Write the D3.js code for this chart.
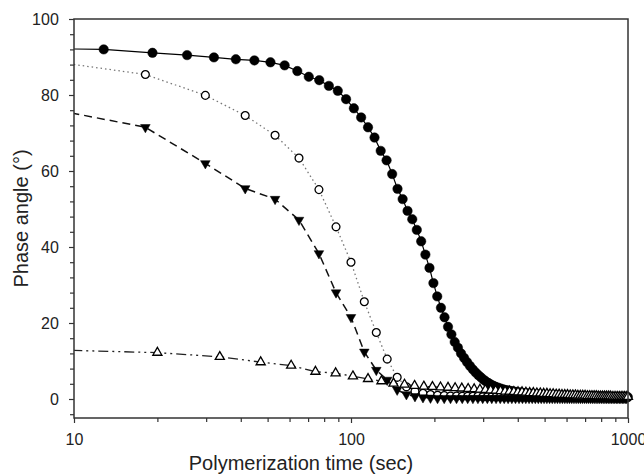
<!DOCTYPE html>
<html>
<head>
<meta charset="utf-8">
<script src="https://cdn.jsdelivr.net/npm/d3@7"></script>
<style>
  body { margin: 0; background: #fff; }
  svg { display: block; }
  text { font-family: Arial, "Liberation Sans", sans-serif; fill: #222; }
</style>
</head>
<body>
<svg id="chart" width="644" height="474"></svg>
<script>
// filled circles, solid line (sampled every 6.4 s)
var fillCircT = [6.4, 12.8, 19.2, 25.6, 32, 38.4, 44.8, 51.2, 57.6, 64,
  70.4, 76.8, 83.2, 89.6, 96, 102.4, 108.8, 115.2, 121.6, 128,
  134.4, 140.8, 147.2, 153.6, 160, 166.4, 172.8, 179.2, 185.6, 192,
  198.4, 204.8, 211.2, 217.6, 224, 230.4, 236.8, 243.2, 249.6, 256,
  262.4, 268.8, 275.2, 281.6, 288, 294.4, 300.8, 307.2, 313.6, 320,
  326.4, 332.8, 339.2, 345.6, 352, 358.4, 364.8, 371.2, 377.6, 384,
  390.4, 396.8, 403.2, 409.6, 416, 422.4, 428.8, 435.2, 441.6, 448,
  454.4, 460.8, 467.2, 473.6, 480, 486.4, 492.8, 499.2, 505.6, 512,
  518.4, 524.8, 531.2, 537.6, 544, 550.4, 556.8, 563.2, 569.6, 576,
  582.4, 588.8, 595.2, 601.6, 608, 614.4, 620.8, 627.2, 633.6, 640,
  646.4, 652.8, 659.2, 665.6, 672, 678.4, 684.8, 691.2, 697.6, 704,
  710.4, 716.8, 723.2, 729.6, 736, 742.4, 748.8, 755.2, 761.6, 768,
  774.4, 780.8, 787.2, 793.6, 800, 806.4, 812.8, 819.2, 825.6, 832,
  838.4, 844.8, 851.2, 857.6, 864, 870.4, 876.8, 883.2, 889.6, 896,
  902.4, 908.8, 915.2, 921.6, 928, 934.4, 940.8, 947.2, 953.6, 960,
  966.4, 972.8, 979.2, 985.6, 992, 998.4];
var fillCircV = [92.3, 92.0, 91.1, 90.5, 89.9, 89.4, 89.1, 88.6, 87.8, 86.3,
  84.8, 83.9, 82.4, 81.1, 78.9, 76.5, 74.1, 71.5, 68.8, 65.3,
  62.8, 59.2, 55.3, 52.6, 49.5, 47.3, 44.5, 41.5, 38.0, 34.5,
  30.5, 27.0, 24.0, 21.5, 19.0, 17.0, 15.0, 13.5, 12.0, 10.8,
  9.7, 8.7, 7.8, 7.0, 6.3, 5.7, 5.1, 4.6, 4.2, 3.8,
  3.5, 3.2, 3.0, 2.8, 2.6, 2.4, 2.3, 2.2, 2.1, 2.0,
  1.9, 1.8, 1.7, 1.7, 1.6, 1.5, 1.5, 1.4, 1.4, 1.3,
  1.3, 1.2, 1.2, 1.2, 1.1, 1.1, 1.1, 1.0, 1.0, 1.0,
  1.0, 0.9, 0.9, 0.9, 0.9, 0.9, 0.8, 0.8, 0.8, 0.8,
  0.8, 0.8, 0.7, 0.7, 0.7, 0.7, 0.7, 0.7, 0.7, 0.7,
  0.6, 0.6, 0.6, 0.6, 0.6, 0.6, 0.6, 0.6, 0.6, 0.6,
  0.6, 0.6, 0.6, 0.6, 0.6, 0.6, 0.6, 0.6, 0.6, 0.6,
  0.6, 0.6, 0.6, 0.6, 0.6, 0.6, 0.6, 0.6, 0.6, 0.6,
  0.5, 0.5, 0.5, 0.5, 0.5, 0.5, 0.5, 0.5, 0.5, 0.5,
  0.5, 0.5, 0.5, 0.5, 0.5, 0.5, 0.5, 0.5, 0.5, 0.5,
  0.5, 0.5, 0.5, 0.5, 0.5, 0.5];

// open circles (dotted) and filled triangles (dashed) share one time base
var midT = [6.4, 18.1, 29.8, 41.5, 53.2, 64.9, 76.6, 88.3, 100, 111.7,
  123.4, 135.1, 146.8, 158.5, 170.2, 181.9, 193.6, 205.3, 217, 228.7,
  240.4, 252.1, 263.8, 275.5, 287.2, 298.9, 310.6, 322.3, 334, 345.7,
  357.4, 369.1, 380.8, 392.5, 404.2, 415.9, 427.6, 439.3, 451, 462.7,
  474.4, 486.1, 497.8, 509.5, 521.2, 532.9, 544.6, 556.3, 568, 579.7,
  591.4, 603.1, 614.8, 626.5, 638.2, 649.9, 661.6, 673.3, 685, 696.7,
  708.4, 720.1, 731.8, 743.5, 755.2, 766.9, 778.6, 790.3, 802, 813.7,
  825.4, 837.1, 848.8, 860.5, 872.2, 883.9, 895.6, 907.3, 919, 930.7,
  942.4, 954.1, 965.8, 977.5, 989.2];
var openCircV = [90.0, 85.4, 79.9, 74.6, 69.4, 63.4, 55.1, 45.3, 36.0, 25.6,
  17.5, 10.5, 5.7, 3.2, 2.0, 1.5, 1.2, 1.0, 0.9, 0.8,
  0.8, 0.7, 0.7, 0.7, 0.7, 0.6, 0.6, 0.6, 0.6, 0.6,
  0.5, 0.5, 0.5, 0.5, 0.5, 0.5, 0.5, 0.5, 0.5, 0.5,
  0.5, 0.5, 0.5, 0.5, 0.5, 0.5, 0.5, 0.5, 0.5, 0.5,
  0.5, 0.5, 0.5, 0.5, 0.5, 0.4, 0.4, 0.4, 0.4, 0.4,
  0.4, 0.4, 0.4, 0.4, 0.4, 0.4, 0.4, 0.4, 0.4, 0.4,
  0.4, 0.4, 0.4, 0.4, 0.4, 0.4, 0.4, 0.4, 0.4, 0.4,
  0.4, 0.4, 0.4, 0.4, 0.4];
var fillTriV = [77.9, 71.5, 62.0, 55.4, 52.6, 47.1, 38.3, 28.0, 21.5, 12.4,
  7.6, 5.0, 2.4, 1.2, 0.7, 0.4, 0.3, 0.2, 0.2, 0.2,
  0.2, 0.2, 0.2, 0.2, 0.2, 0.2, 0.2, 0.2, 0.2, 0.2,
  0.2, 0.2, 0.2, 0.2, 0.2, 0.2, 0.2, 0.2, 0.2, 0.2,
  0.2, 0.2, 0.2, 0.2, 0.2, 0.2, 0.2, 0.2, 0.2, 0.2,
  0.2, 0.2, 0.2, 0.2, 0.2, 0.2, 0.2, 0.2, 0.2, 0.2,
  0.2, 0.2, 0.2, 0.2, 0.2, 0.2, 0.2, 0.2, 0.2, 0.2,
  0.2, 0.2, 0.2, 0.2, 0.2, 0.2, 0.2, 0.2, 0.2, 0.2,
  0.2, 0.2, 0.2, 0.2, 0.2];

// open triangles, dash-dot-dot line
var openTriT = [6.4, 20, 33.6, 47.2, 60.8, 74.4, 88, 101.6, 115.2, 128.8,
  142.4, 156, 169.6, 183.2, 196.8, 210.4, 224, 237.6, 251.2, 264.8,
  278.4, 292, 305.6, 319.2, 332.8, 346.4, 360, 373.6, 387.2, 400.8,
  414.4, 428, 441.6, 455.2, 468.8, 482.4, 496, 509.6, 523.2, 536.8,
  550.4, 564, 577.6, 591.2, 604.8, 618.4, 632, 645.6, 659.2, 672.8,
  686.4, 700, 713.6, 727.2, 740.8, 754.4, 768, 781.6, 795.2, 808.8,
  822.4, 836, 849.6, 863.2, 876.8, 890.4, 904, 917.6, 931.2, 944.8,
  958.4, 972, 985.6, 999.2];
var openTriV = [13.15, 12.2, 11.1, 9.7, 8.8, 7.2, 6.8, 6.0, 5.3, 4.7,
  4.1, 3.8, 3.5, 3.3, 3.2, 3.1, 3.0, 2.9, 2.8, 2.7,
  2.6, 2.5, 2.4, 2.3, 2.2, 2.1, 2.0, 2.0, 1.9, 1.8,
  1.8, 1.7, 1.6, 1.6, 1.5, 1.5, 1.4, 1.4, 1.3, 1.3,
  1.2, 1.2, 1.1, 1.1, 1.1, 1.0, 1.0, 1.0, 0.9, 0.9,
  0.9, 0.9, 0.8, 0.8, 0.8, 0.8, 0.8, 0.7, 0.7, 0.7,
  0.7, 0.7, 0.7, 0.7, 0.6, 0.6, 0.6, 0.6, 0.6, 0.6,
  0.6, 0.6, 0.6, 0.6];

var xMajor = [10, 100, 1000];
var xMinor = [20, 30, 40, 50, 60, 70, 80, 90, 200, 300, 400, 500, 600, 700, 800, 900];
var yMajor = [0, 20, 40, 60, 80, 100];
var yMinor = [-4, 4, 8, 12, 16, 24, 28, 32, 36, 44, 48, 52, 56, 64, 68, 72, 76, 84, 88, 92, 96];

var svg = d3.select("#chart");
//plot box edges in pixels
var boxL = 74, boxR = 628, boxT = 19, boxB = 418;

var x = d3.scaleLog().domain([10, 1000]).range([boxL, boxR]);
var y = d3.scaleLinear().domain([-5, 100]).range([boxB, boxT]);

svg.append("clipPath").attr("id", "plotClip")
  .append("rect")
  .attr("x", boxL).attr("y", boxT)
  .attr("width", boxR - boxL).attr("height", boxB - boxT);

function zip(ts, vs) {
  return ts.map(function(t, i) { return { t: t, v: vs[i] }; });
}

var series = [
  { data: zip(fillCircT, fillCircV), dash: null, color: "#000", width: 1.2,
    shape: d3.symbolCircle, size: 70, fill: "#000", rot: 0 },
  { data: zip(midT, openCircV), dash: "1.5,3", color: "#777", width: 1.3,
    shape: d3.symbolCircle, size: 48, fill: "#fff", rot: 0 },
  { data: zip(midT, fillTriV), dash: "8,5", color: "#111", width: 1.5,
    shape: d3.symbolTriangle, size: 40, fill: "#000", rot: 180 },
  { data: zip(openTriT, openTriV), dash: "10,4,2,4,2,4", color: "#222", width: 1.3,
    shape: d3.symbolTriangle, size: 36, fill: "#fff", rot: 0 }
];

var line = d3.line()
  .x(function(d) { return x(d.t); })
  .y(function(d) { return y(d.v); });

//Lines first, clipped to the plot box
series.forEach(function(s) {
  svg.append("path")
    .datum(s.data)
    .attr("clip-path", "url(#plotClip)")
    .attr("d", line)
    .attr("fill", "none")
    .attr("stroke", s.color)
    .attr("stroke-width", s.width)
    .attr("stroke-dasharray", s.dash);
});

//Then markers for each series (only those inside the time range)
series.forEach(function(s) {
  svg.append("g")
    .selectAll("path")
    .data(s.data.filter(function(d) { return d.t >= 10; }))
    .join("path")
    .attr("transform", function(d) {
      return "translate(" + x(d.t) + "," + y(d.v) + ") rotate(" + s.rot + ")";
    })
    .attr("d", d3.symbol().type(s.shape).size(s.size))
    .attr("fill", s.fill)
    .attr("stroke", "#000")
    .attr("stroke-width", s.fill === "#fff" ? 1.3 : 0.5);
});

// frame
svg.append("rect")
  .attr("x", boxL).attr("y", boxT)
  .attr("width", boxR - boxL).attr("height", boxB - boxT)
  .attr("fill", "none")
  .attr("stroke", "#333")
  .attr("stroke-width", 1.5);

// axes
var xAxis = svg.append("g").attr("transform", "translate(0," + boxB + ")");
xAxis.call(d3.axisBottom(x).tickValues(xMajor).tickSize(5).tickFormat(d3.format("d")));
xAxis.append("g").call(d3.axisBottom(x).tickValues(xMinor).tickSize(4).tickFormat(""));

var yAxis = svg.append("g").attr("transform", "translate(" + boxL + ",0)");
yAxis.call(d3.axisLeft(y).tickValues(yMajor).tickSize(5));
yAxis.append("g").call(d3.axisLeft(y).tickValues(yMinor).tickSize(4).tickFormat(""));

svg.selectAll(".domain").remove();
svg.selectAll(".tick line").attr("stroke", "#333").attr("stroke-width", 1.2);
xAxis.selectAll(".tick text").attr("font-size", 16).attr("dy", "1.2em");
yAxis.selectAll(".tick text").attr("font-size", 16).attr("dx", "-0.45em");
svg.selectAll(".tick text").attr("font-family", null).style("fill", "#222");

svg.append("text")
  .attr("x", 301)
  .attr("y", 470)
  .attr("text-anchor", "middle")
  .attr("font-size", 20)
  .text("Polymerization time (sec)");

svg.append("text")
  .attr("transform", "translate(28," + (boxT + boxB) / 2 + ") rotate(-90)")
  .attr("text-anchor", "middle")
  .attr("font-size", 20)
  .text("Phase angle (°)");
</script>
</body>
</html>
